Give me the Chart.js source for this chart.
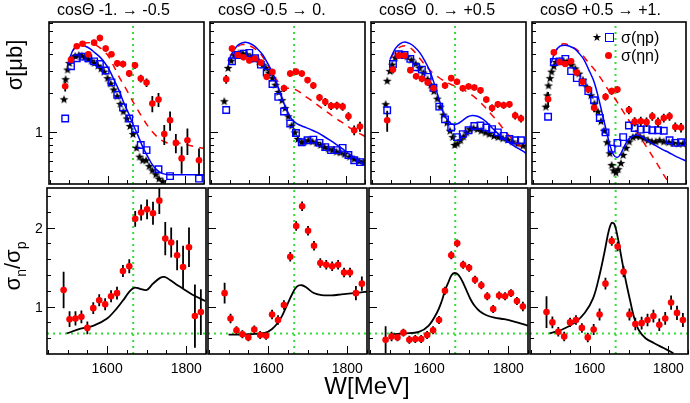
<!DOCTYPE html>
<html>
<head>
<meta charset="utf-8">
<script src="https://cdn.jsdelivr.net/npm/chart.js@4.4.0/dist/chart.umd.min.js"></script>
<style>
  body { margin: 0; background: #fff; width: 690px; height: 403px; position: relative; overflow: hidden;
         font-family: "Liberation Sans", Arial, sans-serif; }
  canvas { position: absolute; }
  .lbl { position: absolute; white-space: pre; color: #000; line-height: 1; }
</style>
</head>
<body>
<script>
// energy bins of the eta-n / ratio points (MeV)
const wBins = [1490,1505,1520,1535,1550,1565,1580,1595,1610,1625,1640,1656,1671,1686,1701,1716,1732,1747,1762,1777,1792,1807,1822,1837];
const titles = ['cosΘ -1. → -0.5', 'cosΘ -0.5 → 0.', 'cosΘ  0. → +0.5', 'cosΘ +0.5 → +1.'];
const xTickLabels = [1600, 1800];
const greenW = 1666;
const greenRatio = 0.66;

// ---- cosTheta -1 -> -0.5
const sigN_1 = [2.27,3.63,4.62,4.83,4.0,4.92,5.35,4.43,4.0,3.41,3.37,2.85,3.29,2.60,2.42,1.67,1.79,0.97,1.24,0.83,0.63,0.87,null,0.61];
const errN_1 = [0.2,0.2,0.2,0.2,0.2,0.25,0.3,0.25,0.2,0.2,0.2,0.18,0.2,0.18,0.18,0.24,0.22,0.17,0.21,0.14,0.15,0.2,0,0.14];
const sigP_1 = [1.28,3.24,3.73,3.84,3.73,3.53,3.37,3.0,2.43,1.95,1.56,1.28,1.06,0.80,0.73,null,0.52,null,0.46,null,null,null,null,0.44];
const starW_1 = [1487,1491,1496,1501,1508,1516,1525,1533,1541,1550,1558,1566,1575,1583,1591,1600,1608,1616,1625,1633,1641,1650,1658,1666,1675,1683,1691,1700,1708,1716,1725,1733,1743];
const starS_1 = [1.80,2.57,3.05,3.43,3.69,3.89,3.95,3.91,3.82,3.69,3.57,3.43,3.27,3.11,2.94,2.62,2.38,2.14,1.90,1.66,1.45,1.28,1.12,0.97,0.76,0.65,0.61,0.61,0.55,0.51,0.475,0.44,0.42];
const mpW_1 = [1498,1508,1516,1525,1533,1541,1554,1566,1579,1591,1604,1616,1629,1641,1654,1666,1679,1691,1704,1716,1729,1741,1758,1783,1816,1850];
const mp_1 = [3.43,4.19,4.51,4.67,4.70,4.64,4.43,4.14,3.84,3.49,3.05,2.57,2.13,1.72,1.41,1.15,0.944,0.773,0.651,0.564,0.509,0.483,0.472,0.472,0.472,0.472];
const mnW_1 = [1498,1508,1520,1533,1550,1566,1583,1600,1616,1633,1650,1666,1683,1700,1716,1733,1750,1766,1783,1800,1816,1850];
const mn_1 = [3.43,4.19,4.62,4.83,4.92,4.78,4.43,3.95,3.24,2.57,2.11,1.72,1.41,1.17,1.01,0.90,0.84,0.82,0.83,0.81,0.79,0.75];
const ratio_1 = [1.21,0.84,0.85,0.87,0.73,0.98,1.08,1.03,1.13,1.17,1.45,1.51,2.11,2.19,2.23,2.18,2.34,1.86,1.81,1.65,1.50,1.75,0.88,0.93];
const rErr_1 = [0.23,0.10,0.09,0.08,0.08,0.075,0.075,0.075,0.075,0.08,0.075,0.09,0.10,0.10,0.125,0.146,0.17,0.21,0.19,0.19,0.27,0.25,0.40,0.29];
const rmW_1 = [1498,1533,1566,1600,1625,1645,1658,1670,1683,1700,1716,1733,1745,1758,1775,1791,1816,1848];
const rm_1 = [0.66,0.72,0.76,0.85,0.98,1.11,1.20,1.24,1.225,1.21,1.29,1.36,1.375,1.34,1.28,1.23,1.15,1.07];

// ---- cosTheta -0.5 -> 0
const sigN_2 = [2.57,4.43,3.95,3.80,3.59,3.71,3.45,2.68,2.92,null,2.19,2.84,2.94,2.84,2.53,2.30,1.86,1.72,1.60,1.61,1.58,1.33,1.04,1.11];
const errN_2 = [0.2,0.25,0.2,0.2,0.18,0.18,0.18,0.15,0.18,0,0.14,0.16,0.16,0.16,0.14,0.14,0.12,0.12,0.11,0.11,0.11,0.1,0.09,0.1];
const sigP_2 = [1.49,3.53,3.95,4.05,4.10,3.73,3.33,2.89,2.36,1.88,1.45,1.17,0.99,0.84,0.87,0.88,0.83,0.77,0.73,0.73,0.76,0.67,0.61,0.59];
const starW_2 = [1485,1495,1503,1511,1522,1533,1543,1553,1564,1575,1585,1593,1601,1610,1618,1626,1635,1643,1651,1660,1668,1676,1685,1693,1703,1714,1725,1735,1745,1755,1766,1776,1786,1797,1810,1822,1835,1847];
const starS_2 = [1.74,3.14,3.57,3.95,4.07,4.07,4.0,3.84,3.69,3.53,3.33,3.14,2.89,2.62,2.33,2.05,1.77,1.54,1.33,1.13,1.0,0.89,0.84,0.85,0.87,0.85,0.83,0.80,0.77,0.75,0.73,0.71,0.70,0.68,0.65,0.625,0.60,0.59];
const mpW_2 = [1497,1510,1522,1535,1547,1560,1572,1585,1597,1610,1622,1635,1647,1658,1668,1680,1693,1710,1726,1743,1760,1776,1793,1810,1826,1843,1855];
const mp_2 = [3.63,4.31,4.75,4.94,4.92,4.70,4.38,3.95,3.43,2.89,2.36,1.82,1.49,1.29,1.20,1.14,1.10,1.05,1.0,0.934,0.866,0.804,0.742,0.677,0.625,0.574,0.548];
const mnW_2 = [1500,1514,1530,1547,1564,1580,1597,1614,1630,1647,1664,1680,1697,1714,1730,1747,1764,1780,1797,1814,1830,1851];
const mn_2 = [3.84,4.43,4.75,4.70,4.43,4.0,3.33,2.72,2.36,2.20,2.17,2.05,1.88,1.74,1.60,1.47,1.35,1.25,1.16,1.07,1.0,0.93];
const ratio_2 = [1.17,0.85,0.70,0.65,0.61,0.71,0.64,0.63,0.90,0.83,1.02,1.63,2.02,2.27,1.96,1.77,1.55,1.53,1.51,1.53,1.43,1.43,1.17,1.29];
const rErr_2 = [0.13,0.06,0.05,0.05,0.05,0.05,0.05,0.05,0.06,0.06,0.06,0.06,0.06,0.06,0.06,0.06,0.06,0.06,0.06,0.06,0.06,0.06,0.09,0.09];
const rmW_2 = [1500,1526,1568,1593,1610,1622,1635,1647,1660,1672,1685,1697,1714,1735,1760,1785,1810,1835,1855];
const rm_2 = [0.646,0.646,0.654,0.667,0.717,0.78,0.88,1.01,1.15,1.25,1.27,1.24,1.175,1.146,1.142,1.154,1.167,1.18,1.19];

// ---- cosTheta 0 -> +0.5
const sigN_3 = [1.24,3.05,3.91,3.91,3.02,2.71,2.59,2.43,2.19,null,2.30,2.62,2.46,2.19,2.26,2.22,2.11,1.79,1.54,1.65,1.62,1.65,1.35,1.28];
const errN_3 = [0.23,0.2,0.2,0.2,0.16,0.15,0.15,0.14,0.13,0,0.13,0.14,0.13,0.12,0.12,0.12,0.12,0.1,0.1,0.1,0.1,0.1,0.09,0.09];
const sigP_3 = [1.48,3.37,4.0,3.95,3.69,3.18,3.05,2.68,2.21,1.58,1.26,1.09,0.92,0.97,1.04,1.12,1.13,1.09,1.06,1.0,0.94,0.89,0.87,0.87];
const starW_3 = [1486,1490,1497,1503,1511,1520,1530,1542,1553,1564,1574,1584,1595,1603,1611,1620,1628,1636,1645,1653,1660,1665,1672,1680,1688,1696,1705,1714,1724,1734,1745,1755,1767,1778,1790,1803,1815,1828,1842];
const starS_3 = [1.65,2.50,2.97,3.33,3.78,4.0,4.0,3.84,3.63,3.39,3.14,2.89,2.57,2.33,2.08,1.82,1.58,1.37,1.19,1.03,0.92,0.80,0.82,0.87,0.93,1.0,1.06,1.08,1.06,1.03,1.0,0.97,0.94,0.92,0.90,0.88,0.85,0.82,0.79];
const mpW_3 = [1497,1511,1524,1536,1549,1561,1574,1586,1599,1611,1624,1636,1649,1661,1674,1686,1699,1711,1724,1737,1749,1761,1774,1791,1807,1824,1841,1853];
const mp_3 = [3.63,4.43,4.83,4.97,4.83,4.56,4.14,3.63,3.05,2.43,1.82,1.41,1.22,1.15,1.17,1.24,1.32,1.35,1.33,1.27,1.19,1.09,1.0,0.90,0.83,0.77,0.72,0.68];
const mnW_3 = [1499,1511,1524,1541,1557,1574,1591,1607,1624,1641,1657,1674,1691,1707,1724,1741,1757,1774,1791,1807,1824,1841,1853];
const mn_3 = [3.73,4.24,4.56,4.64,4.31,3.73,3.24,2.89,2.65,2.46,2.33,2.23,2.11,1.97,1.79,1.60,1.41,1.24,1.07,0.94,0.83,0.77,0.75];
const ratio_3 = [0.58,0.62,0.61,0.67,0.58,0.59,0.59,0.64,0.70,0.83,1.20,1.65,1.80,1.53,1.49,1.34,1.27,1.13,0.97,1.14,1.13,1.17,1.07,1.0];
const rErr_3 = [0.17,0.06,0.05,0.05,0.05,0.05,0.05,0.05,0.05,0.05,0.05,0.05,0.05,0.05,0.05,0.05,0.05,0.05,0.05,0.05,0.05,0.05,0.05,0.06];
const rmW_3 = [1499,1540,1574,1599,1620,1632,1640,1649,1657,1665,1674,1684,1695,1705,1715,1728,1745,1765,1790,1815,1849];
const rm_3 = [0.646,0.66,0.68,0.76,0.925,1.07,1.20,1.31,1.40,1.425,1.40,1.32,1.20,1.09,1.01,0.94,0.89,0.86,0.84,0.81,0.76];

// ---- cosTheta +0.5 -> +1
const sigN_4 = [1.80,4.14,3.49,3.37,3.53,2.89,2.46,2.14,1.55,null,1.88,2.08,2.14,null,1.49,1.21,1.22,1.20,1.33,1.20,1.29,1.33,1.10,1.09];
const errN_4 = [0.25,0.2,0.18,0.17,0.17,0.15,0.14,0.13,0.12,0,0.12,0.13,0.13,0,0.11,0.1,0.1,0.1,0.1,0.1,0.1,0.1,0.09,0.09];
const sigP_4 = [1.32,3.49,3.53,3.69,2.97,2.62,2.43,2.08,1.77,1.29,1.0,0.75,0.83,0.92,1.13,1.08,1.05,1.06,1.04,1.04,1.03,0.87,0.83,0.84];
const starW_4 = [1484,1488,1491,1495,1499,1505,1511,1520,1530,1540,1551,1561,1571,1581,1592,1602,1611,1620,1628,1636,1644,1651,1656,1661,1667,1673,1680,1686,1694,1702,1711,1720,1730,1740,1751,1761,1771,1781,1792,1805,1817,1830,1842];
const starS_4 = [1.58,1.93,2.30,2.62,2.94,3.24,3.49,3.57,3.57,3.49,3.33,3.11,2.84,2.54,2.23,1.93,1.67,1.45,1.22,1.03,0.84,0.69,0.56,0.51,0.49,0.52,0.58,0.67,0.76,0.85,0.92,0.94,0.93,0.90,0.87,0.85,0.85,0.87,0.85,0.84,0.83,0.82,0.82];
const mpW_4 = [1498,1509,1521,1534,1546,1559,1571,1584,1596,1609,1621,1631,1642,1653,1661,1670,1678,1688,1698,1709,1721,1734,1746,1759,1771,1788,1805,1821,1838,1851];
const mp_4 = [3.43,4.19,4.62,4.70,4.62,4.43,4.07,3.63,3.05,2.50,1.88,1.41,1.03,0.77,0.67,0.64,0.67,0.77,0.87,0.93,0.955,0.93,0.88,0.83,0.79,0.74,0.70,0.66,0.625,0.60];
const mnW_4 = [1505,1517,1530,1546,1563,1580,1596,1613,1630,1646,1663,1680,1696,1713,1730,1746,1763,1780,1796,1813];
const mn_4 = [3.95,4.56,4.83,4.70,4.38,3.95,3.43,3.0,2.55,2.15,1.85,1.55,1.30,1.10,0.93,0.78,0.65,0.54,0.45,0.39];
const ratio_4 = [0.93,0.80,0.68,0.62,0.80,0.83,0.73,0.61,0.71,0.90,1.29,1.83,1.76,1.44,0.90,0.78,0.79,0.83,0.88,0.77,0.85,1.05,0.92,0.83];
const rErr_4 = [0.2,0.075,0.06,0.06,0.06,0.06,0.06,0.06,0.07,0.075,0.075,0.06,0.06,0.07,0.075,0.08,0.08,0.08,0.08,0.08,0.08,0.09,0.09,0.09];
const rmW_4 = [1498,1530,1563,1588,1609,1625,1638,1648,1656,1663,1671,1681,1692,1703,1713,1725,1742,1763,1788,1813];
const rm_4 = [0.66,0.71,0.80,0.925,1.11,1.40,1.70,1.95,2.06,2.04,1.88,1.61,1.32,1.07,0.86,0.70,0.60,0.54,0.475,0.41];

const panels = [
  {sigN: sigN_1, errN: errN_1, sigP: sigP_1, starW: starW_1, starS: starS_1, mpW: mpW_1, mp: mp_1, mnW: mnW_1, mn: mn_1, ratio: ratio_1, rErr: rErr_1, rmW: rmW_1, rm: rm_1},
  {sigN: sigN_2, errN: errN_2, sigP: sigP_2, starW: starW_2, starS: starS_2, mpW: mpW_2, mp: mp_2, mnW: mnW_2, mn: mn_2, ratio: ratio_2, rErr: rErr_2, rmW: rmW_2, rm: rm_2},
  {sigN: sigN_3, errN: errN_3, sigP: sigP_3, starW: starW_3, starS: starS_3, mpW: mpW_3, mp: mp_3, mnW: mnW_3, mn: mn_3, ratio: ratio_3, rErr: rErr_3, rmW: rmW_3, rm: rm_3},
  {sigN: sigN_4, errN: errN_4, sigP: sigP_4, starW: starW_4, starS: starS_4, mpW: mpW_4, mp: mp_4, mnW: mnW_4, mn: mn_4, ratio: ratio_4, rErr: rErr_4, rmW: rmW_4, rm: rm_4}
];

// layout
const xMin = 1448, xMax = 1850;
const panelLeft = [46, 207, 368, 529];
const panelWidth = [161, 161, 161, 160];
const rowTop = [19, 187];
const rowHeight = 168;
const pad = 3;

function pts(xs, ys, errs) {
  const out = [];
  xs.forEach((x, i) => {
    if (ys[i] == null) return;
    out.push(errs ? {x: x, y: ys[i], e: errs[i]} : {x: x, y: ys[i]});
  });
  return out;
}

function starImage() {
  const c = document.createElement('canvas');
  c.width = 10; c.height = 10;
  const g = c.getContext('2d');
  g.fillStyle = '#000';
  g.beginPath();
  for (let i = 0; i < 10; i++) {
    const r = i % 2 ? 1.9 : 4.6;
    const a = -Math.PI / 2 + i * Math.PI / 5;
    g.lineTo(5 + r * Math.cos(a), 5.4 + r * Math.sin(a));
  }
  g.closePath();
  g.fill();
  return c;
}
const starImg = starImage();

const errorBars = {
  id: 'errorBars',
  beforeDatasetDraw(chart, args) {
    const ds = chart.data.datasets[args.index];
    if (!ds.withErrors) return;
    const ctx = chart.ctx, xs = chart.scales.x, ys = chart.scales.y, a = chart.chartArea;
    ctx.save();
    ctx.beginPath();
    ctx.rect(a.left, a.top, a.right - a.left, a.bottom - a.top);
    ctx.clip();
    ctx.strokeStyle = '#000';
    ctx.lineWidth = 1.8;
    ctx.beginPath();
    ds.data.forEach(p => {
      if (!p.e) return;
      const px = xs.getPixelForValue(p.x);
      ctx.moveTo(px, ys.getPixelForValue(p.y - p.e));
      ctx.lineTo(px, ys.getPixelForValue(p.y + p.e));
    });
    ctx.stroke();
    ctx.restore();
  }
};

const frame = {
  id: 'frame',
  afterDraw(chart, args, opts) {
    const ctx = chart.ctx, a = chart.chartArea, xs = chart.scales.x, ys = chart.scales.y;
    ctx.save();
    ctx.strokeStyle = '#000';
    ctx.lineWidth = 1;
    ctx.beginPath();
    for (let v = 1450; v <= 1850; v += 50) {
      const px = Math.round(xs.getPixelForValue(v)) + 0.5;
      const len = (v % 200 === 0) ? 8 : 4;
      ctx.moveTo(px, a.bottom);
      ctx.lineTo(px, a.bottom - len);
    }
    opts.yMinor.forEach(v => {
      const py = Math.round(ys.getPixelForValue(v)) + 0.5;
      ctx.moveTo(a.left, py);
      ctx.lineTo(a.left + 4, py);
    });
    opts.yMajor.forEach(v => {
      const py = Math.round(ys.getPixelForValue(v)) + 0.5;
      ctx.moveTo(a.left, py);
      ctx.lineTo(a.left + 8, py);
    });
    ctx.stroke();
    ctx.lineWidth = 1.6;
    ctx.strokeRect(a.left, a.top, a.right - a.left, a.bottom - a.top);
    ctx.restore();
  }
};

function addLabel(text, x, y, size, extra) {
  const d = document.createElement('div');
  d.className = 'lbl';
  d.innerHTML = text;
  d.style.left = x + 'px';
  d.style.top = y + 'px';
  d.style.fontSize = size + 'px';
  d.style.transform = extra || 'translate(-50%, -50%)';
  document.body.appendChild(d);
  return d;
}

function makeChart(col, row) {
  const p = panels[col];
  const c = document.createElement('canvas');
  const w = panelWidth[col] + 2 * pad, h = rowHeight + 2 * pad;
  c.width = w; c.height = h;
  c.style.left = (panelLeft[col] - pad) + 'px';
  c.style.top = (rowTop[row] - pad) + 'px';
  c.style.width = w + 'px'; c.style.height = h + 'px';
  document.body.appendChild(c);

  const top = row === 0;
  const yMin = 0.4, yMax = top ? 7.1 : 2.5;
  const green = {data: [{x: greenW, y: yMin}, {x: greenW, y: yMax}], showLine: true, pointRadius: 0,
                 borderColor: '#33dd33', borderWidth: 2, borderDash: [2, 4], order: 9};
  let datasets;
  if (top) {
    datasets = [
      {data: pts(wBins, p.sigN, p.errN), withErrors: true, pointStyle: 'circle', pointRadius: 3.3,
       backgroundColor: '#ff0000', borderWidth: 0, order: 0},
      {data: pts(wBins, p.sigP), pointStyle: 'rect', pointRadius: 4.6, backgroundColor: 'rgba(255,255,255,0)',
       borderColor: '#0000ff', borderWidth: 1.4, order: 1},
      {data: pts(p.mpW, p.mp), showLine: true, pointRadius: 0, borderColor: '#0000ff', borderWidth: 1.5,
       tension: 0.3, order: 2},
      {data: pts(p.mnW, p.mn), showLine: true, pointRadius: 0, borderColor: '#ff0000', borderWidth: 1.5,
       borderDash: [7, 6], tension: 0.3, order: 3},
      {data: pts(p.starW, p.starS), pointStyle: starImg, pointRadius: 4, order: 4},
      green
    ];
  } else {
    datasets = [
      {data: pts(wBins, p.ratio, p.rErr), withErrors: true, pointStyle: 'circle', pointRadius: 3.3,
       backgroundColor: '#ff0000', borderWidth: 0, order: 0},
      {data: pts(p.rmW, p.rm), showLine: true, pointRadius: 0, borderColor: '#000', borderWidth: 1.8,
       tension: 0.35, order: 2},
      {data: [{x: xMin, y: greenRatio}, {x: xMax, y: greenRatio}], showLine: true, pointRadius: 0,
       borderColor: '#33dd33', borderWidth: 2, borderDash: [2, 4], order: 8},
      green
    ];
  }

  return new Chart(c.getContext('2d'), {
    type: 'scatter',
    data: {datasets: datasets},
    options: {
      responsive: false,
      animation: false,
      events: [],
      layout: {padding: pad},
      scales: {
        x: {type: 'linear', min: xMin, max: xMax, display: false},
        y: top ? {type: 'logarithmic', min: yMin, max: yMax, display: false}
               : {type: 'linear', min: yMin, max: yMax, display: false}
      },
      plugins: {
        legend: {display: false},
        tooltip: {enabled: false},
        frame: top ? {yMajor: [1], yMinor: [0.5, 0.6, 0.7, 0.8, 0.9, 2, 3, 4, 5, 6, 7]}
                   : {yMajor: [1, 2], yMinor: [0.6, 0.8, 1.2, 1.4, 1.6, 1.8, 2.2, 2.4]}
      }
    },
    plugins: [errorBars, frame]
  });
}

for (let col = 0; col < 4; col++) {
  const topChart = makeChart(col, 0);
  const botChart = makeChart(col, 1);
  addLabel(titles[col], panelLeft[col] + 11, 10, 16, 'translate(0, -50%)');
  const x0 = panelLeft[col] - pad;
  xTickLabels.forEach(v => {
    addLabel(String(v), x0 + botChart.scales.x.getPixelForValue(v), 368, 14);
  });
  if (col === 0) {
    addLabel('1', 39, rowTop[0] - pad + topChart.scales.y.getPixelForValue(1), 14);
    addLabel('2', 39, rowTop[1] - pad + botChart.scales.y.getPixelForValue(2), 14);
    addLabel('1', 39, rowTop[1] - pad + botChart.scales.y.getPixelForValue(1), 14);
  }
}

// axis titles
addLabel('σ[μb]', 15, 65, 22, 'translate(-50%, -50%) rotate(-90deg)');
addLabel('σ<sub style="font-size:14px">n</sub>/σ<sub style="font-size:14px">p</sub>', 15, 266, 22,
         'translate(-50%, -50%) rotate(-90deg)');
addLabel('W[MeV]', 367, 386, 24);

// legend (top right panel)
addLabel('★', 597, 37, 11);
const sq = document.createElement('div');
sq.style.cssText = 'position:absolute;left:605px;top:33px;width:7px;height:7px;border:1.4px solid #00f;';
document.body.appendChild(sq);
addLabel('σ(ηp)', 621, 38, 16, 'translate(0, -50%)');
const dot = document.createElement('div');
dot.style.cssText = 'position:absolute;left:605px;top:52px;width:7px;height:7px;border-radius:50%;background:#f00;';
document.body.appendChild(dot);
addLabel('σ(ηn)', 621, 56, 16, 'translate(0, -50%)');
</script>
</body>
</html>
